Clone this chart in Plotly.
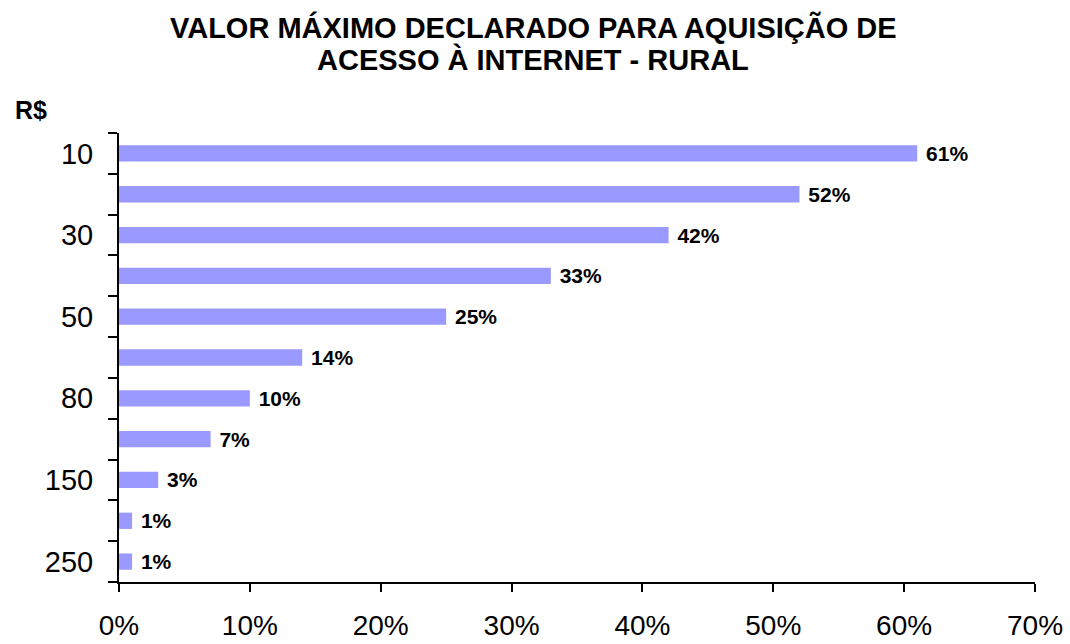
import plotly.graph_objects as go

categories = ["10", "20", "30", "40", "50", "60", "80", "100", "150", "200", "250"]
tick_labels = ["10", "", "30", "", "50", "", "80", "", "150", "", "250"]
values = [61, 52, 42, 33, 25, 14, 10, 7, 3, 1, 1]
value_labels = ["61%", "52%", "42%", "33%", "25%", "14%", "10%", "7%", "3%", "1%", "1%"]
x_ticks = [0, 10, 20, 30, 40, 50, 60, 70]
x_tick_labels = ["0%", "10%", "20%", "30%", "40%", "50%", "60%", "70%"]
title_lines = ["VALOR MÁXIMO DECLARADO PARA AQUISIÇÃO DE", "ACESSO À INTERNET - RURAL"]

FONT = "Arial, Liberation Sans, sans-serif"

fig = go.Figure(go.Bar(
    y=categories, x=values, orientation="h",
    marker=dict(color="#9999FF", line=dict(width=0)),
    text=value_labels, texttemplate=" %{text}",
    textposition="outside", cliponaxis=False,
    constraintext="none", hoverinfo="skip",
    textfont=dict(family=FONT, size=21, color="black", weight="bold"),
))

annotations = [
    dict(text="<b>%s</b>" % title_lines[0], x=0.452, y=1.236),
    dict(text="<b>%s</b>" % title_lines[1], x=0.452, y=1.163),
]
for a in annotations:
    a.update(xref="paper", yref="paper", xanchor="center", yanchor="middle",
             showarrow=False, font=dict(family=FONT, size=29, color="black"))
annotations.append(dict(text="<b>R$</b>", x=-0.096, y=1.051, xref="paper", yref="paper",
                        xanchor="center", yanchor="middle", showarrow=False,
                        font=dict(family=FONT, size=25, color="black")))

fig.update_layout(
    width=1070, height=644,
    margin=dict(l=119, r=35, t=133, b=62, autoexpand=False),
    plot_bgcolor="white", paper_bgcolor="white",
    bargap=0.6,
    showlegend=False,
    font=dict(family=FONT, color="black"),
    annotations=annotations,
)

fig.update_xaxes(
    range=[0, 70], tickvals=x_ticks, ticktext=x_tick_labels,
    showgrid=False, zeroline=False, automargin=False,
    showline=True, linecolor="black", linewidth=2,
    ticks="outside", ticklen=8, tickwidth=2, tickcolor="black",
    tickfont=dict(family=FONT, size=28, color="black"), ticklabelstandoff=9,
)
fig.update_yaxes(
    type="category", categoryorder="array", categoryarray=categories,
    autorange="reversed", automargin=False,
    tickvals=categories, ticktext=tick_labels,
    tickson="boundaries",
    showgrid=False, zeroline=False,
    showline=True, linecolor="black", linewidth=2,
    ticks="outside", ticklen=9, tickwidth=2, tickcolor="black",
    tickfont=dict(family=FONT, size=29, color="black"), ticklabelstandoff=18,
)

fig.write_html(
    "out.html",
    config={"displayModeBar": False},
    post_script="document.body.style.margin='0';document.body.style.overflow='hidden';",
)
